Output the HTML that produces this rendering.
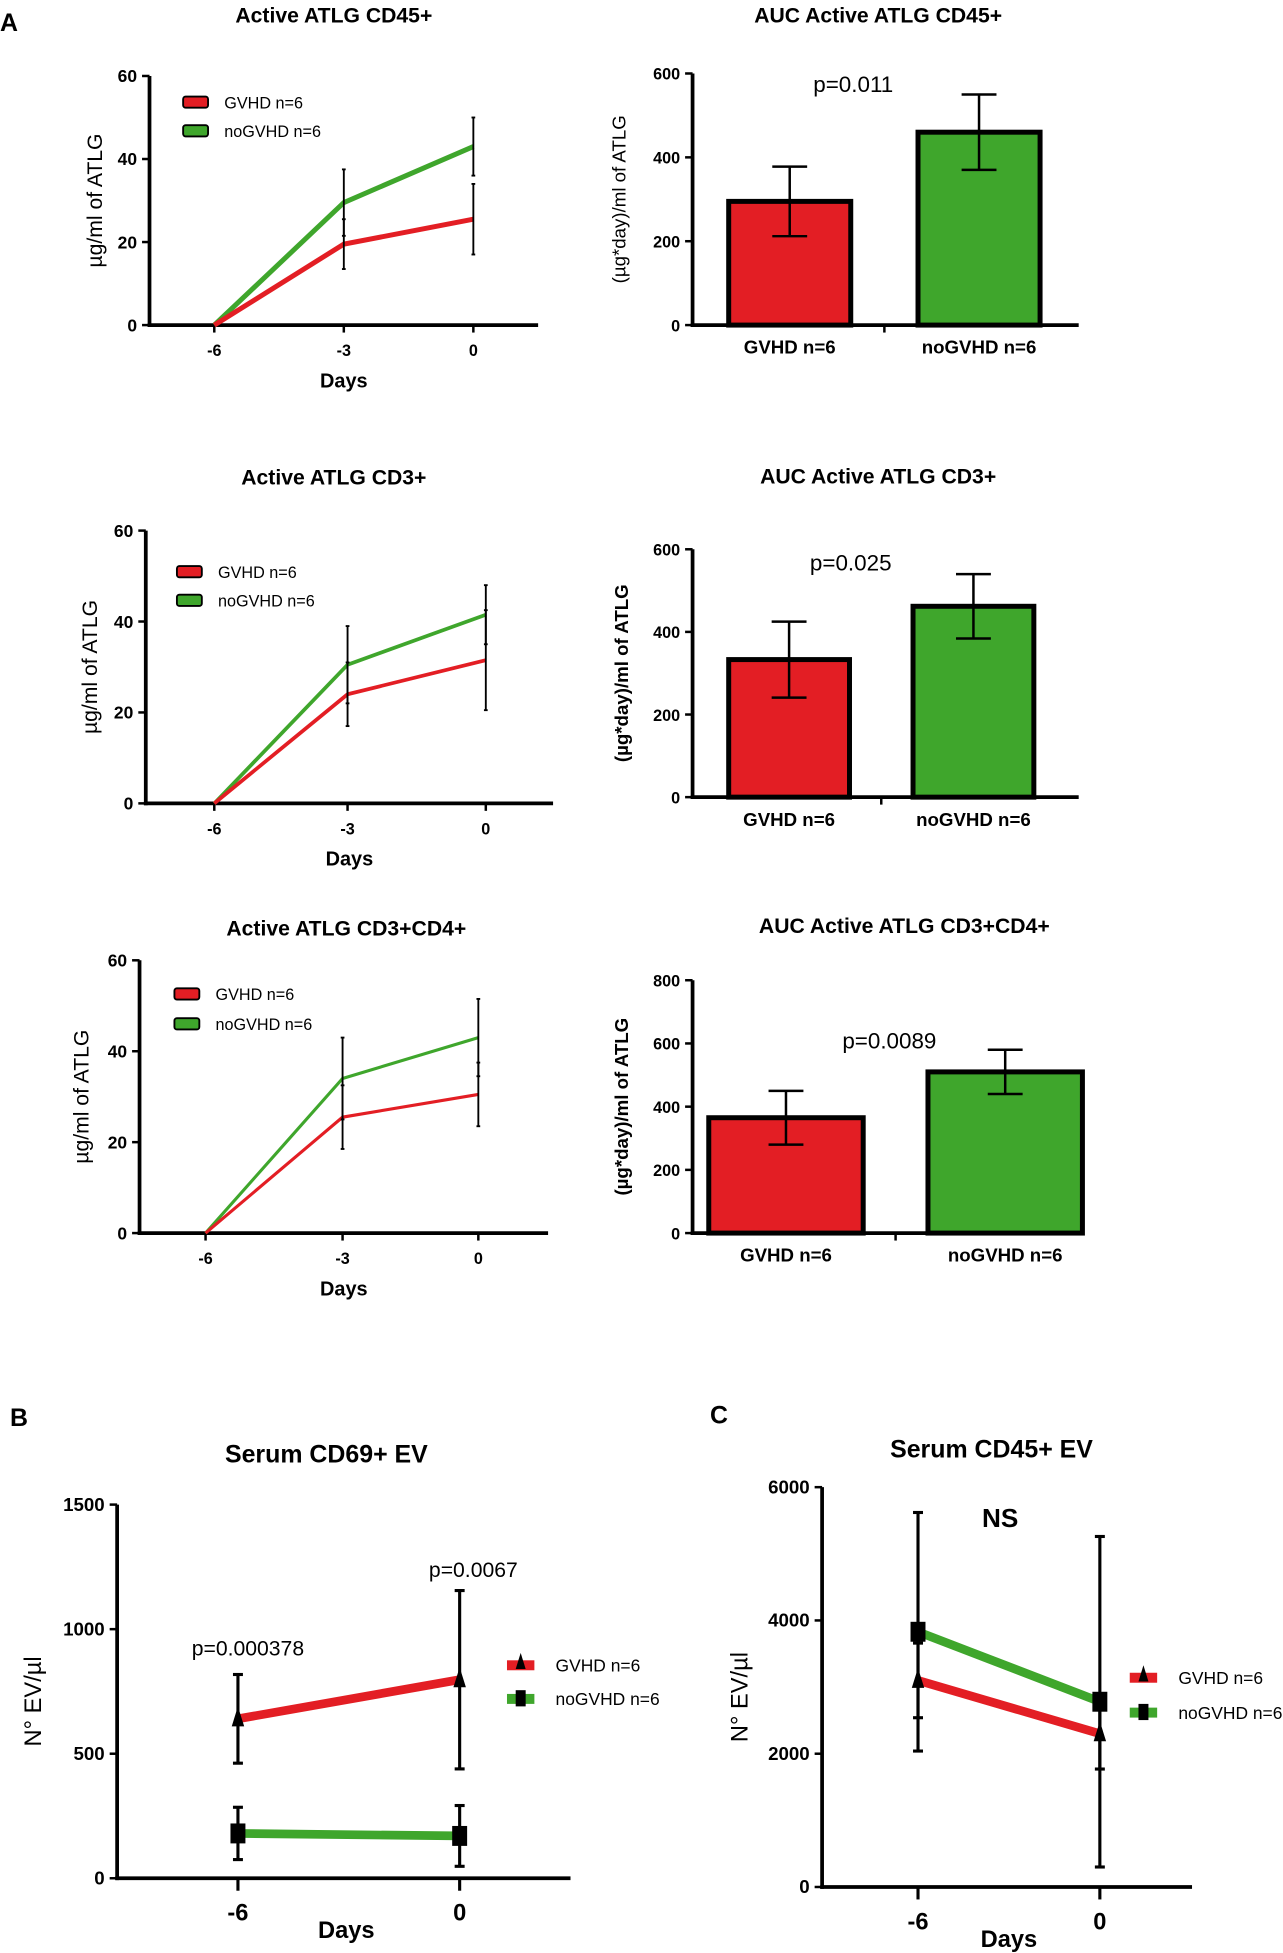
<!DOCTYPE html>
<html><head><meta charset="utf-8"><style>
html,body{margin:0;padding:0;background:#fff;}
svg{display:block;font-family:"Liberation Sans",Arial,sans-serif;}
</style></head><body>
<svg id="fig" width="1283" height="1953" viewBox="0 0 1030 1568" xmlns="http://www.w3.org/2000/svg">
<text x="0" y="25" font-size="20" font-weight="bold">A</text>
<text x="8" y="1145" font-size="20" font-weight="bold">B</text>
<text x="570" y="1143" font-size="20" font-weight="bold">C</text>
</svg>
<script>
// ---- data ----
const daysLine = ["-6","-3","0"];
const cd45Gvhd = [0, 19.5, 25.5];
const cd45GvhdErr = [0, 6, 8.5];
const cd45No = [0, 29.5, 43];
const cd45NoErr = [0, 8, 7];
const cd3Gvhd = [0, 24, 31.5];
const cd3GvhdErr = [0, 7, 11];
const cd3No = [0, 30.5, 41.5];
const cd3NoErr = [0, 8.5, 6.5];
const cd4Gvhd = [0, 25.5, 30.5];
const cd4GvhdErr = [0, 7, 7];
const cd4No = [0, 34, 43];
const cd4NoErr = [0, 9, 8.5];
const barCats = ["GVHD n=6","noGVHD n=6"];
const auc45 = [295, 460];
const auc45Err = [83, 90];
const auc3 = [333, 462];
const auc3Err = [92, 78];
const auc4 = [365, 510];
const auc4Err = [85, 70];
const evDays = ["-6","0"];
const cd69Gvhd = [640, 797];
const cd69GvhdErr = [178, 358];
const cd69No = [180, 170];
const cd69NoErr = [105, 122];
const ev45Gvhd = [3100, 2300];
const ev45GvhdErr = [560, 530];
const ev45No = [3830, 2780];
const ev45NoErr = [1790, 2480];
const lineTicks = [0,20,40,60];
const RED="#e31e24", GREEN="#3fa62c";

const svg=document.getElementById('fig');
const NS="http://www.w3.org/2000/svg";
function mk(tag,attrs,txt){const e=document.createElementNS(NS,tag);for(const k in attrs)e.setAttribute(k,attrs[k]);if(txt!==undefined)e.textContent=txt;svg.appendChild(e);return e;}
function txt(x,y,s,size,opts){opts=opts||{};const e=mk('text',{x:x,y:y,'font-size':size,'text-anchor':opts.anchor||'middle','font-weight':opts.bold?'bold':'normal'},s);if(opts.rot)e.setAttribute('transform','rotate(-90 '+x+' '+y+')');return e;}

function axes(ax,ticks,fmt){
  const yl=mk('line',{x1:ax.x0,y1:ax.y(ticks[ticks.length-1]),x2:ax.x0,y2:ax.y(0)+1.5,stroke:'#000','stroke-width':3});
  
  
  const xl=mk('line',{x1:ax.x0-1.5,y1:ax.y(0),x2:ax.x1,y2:ax.y(0),stroke:'#000','stroke-width':3});
  
  
  ticks.forEach(t=>{
    mk('line',{x1:ax.x0-6,y1:ax.y(t),x2:ax.x0,y2:ax.y(t),stroke:'#000','stroke-width':2});
    const l=txt(ax.x0-10,ax.y(t)+5,fmt?fmt(t):String(t),ax.tickSize||14,{anchor:'end',bold:true});
    
    
  });
}
function errbar(x,y1,y2,w,sw){
  const e=mk('line',{x1:x,y1:y1,x2:x,y2:y2,stroke:'#000','stroke-width':sw||2});
  
  
  mk('line',{x1:x-w,y1:y1,x2:x+w,y2:y1,stroke:'#000','stroke-width':sw||2});
  mk('line',{x1:x-w,y1:y2,x2:x+w,y2:y2,stroke:'#000','stroke-width':sw||2});
}

function lineChart(c){
  const ax={x0:c.x0,x1:c.x1,y:v=>c.yb-(v/60)*(c.yb-c.yt)};
  const xs=i=>c.xs[i];
  const t=txt(c.tx,c.ty,c.title,17,{bold:true});
  
  
  axes(ax,lineTicks);
  daysLine.forEach((d,i)=>{mk('line',{x1:xs(i),y1:ax.y(0),x2:xs(i),y2:ax.y(0)+6,stroke:'#000','stroke-width':2});
    const l=txt(xs(i),ax.y(0)+25,d,13,{bold:true});
    
    });
  const dl=txt((c.x0+c.x1)/2+c.dx,c.yb+50,'Days',16,{bold:true});
  
  
  const yl=txt(c.ylx,(c.yt+c.yb)/2,'µg/ml of ATLG',17,{rot:true});
  
  
  [[c.no,c.noErr,GREEN,'nogvhd-line'],[c.g,c.gErr,RED,'gvhd-line']].forEach(([v,e,col,nm])=>{
    const p=mk('polyline',{points:v.map((y,i)=>xs(i)+','+ax.y(y)).join(' '),fill:'none',stroke:col,'stroke-width':c.sw||4});
    
    
  });
  [[c.g,c.gErr],[c.no,c.noErr]].forEach(([v,e])=>v.forEach((y,i)=>{if(e[i]>0)errbar(xs(i),ax.y(y+e[i]),ax.y(y-e[i]),1.5,1.5);}));
  // legend
  [['GVHD n=6',RED,c.ly1],['noGVHD n=6',GREEN,c.ly2]].forEach(([s,col,y])=>{
    const r=mk('rect',{x:c.lx,y:y-4.5,width:20,height:9,rx:2,fill:col,stroke:'#000','stroke-width':1.5});
    
    
    const l=txt(c.lx+33,y+5,s,13,{anchor:'start'});
    
    
  });
}

function barChart(c){
  const top=c.ticks[c.ticks.length-1];
  const ax={x0:c.x0,x1:c.x1,y:v=>c.yb-(v/top)*(c.yb-c.yt),tickSize:13};
  const t=txt(c.tx,c.ty,c.title,17,{bold:true});
  
  
  const cols=[RED,GREEN];
  c.vals.forEach((v,i)=>{
    const b=mk('rect',{x:c.bx[i],y:ax.y(v),width:c.bw,height:ax.y(0)-ax.y(v),fill:cols[i],stroke:'#000','stroke-width':4});
    
    
    errbar(c.bx[i]+c.bw/2,ax.y(v+c.err[i]),ax.y(v-c.err[i]),14,2);
    const l=txt(c.bx[i]+c.bw/2,c.yb+23,barCats[i],15,{bold:true});
    
    
  });
  axes(ax,c.ticks);
  const mid=(c.bx[0]+c.bw+c.bx[1])/2;
  mk('line',{x1:mid,y1:c.yb,x2:mid,y2:c.yb+6,stroke:'#000','stroke-width':2});
  const p=txt(c.px,c.py,c.p,18,{});
  
  
  const yl=txt(c.ylx,(c.yt+c.yb)/2,'(µg*day)/ml of ATLG',15,{rot:true,bold:c.boldY});
  
  
}

function evChart(c){
  const top=c.ticks[c.ticks.length-1];
  const ax={x0:c.x0,x1:c.x1,y:v=>c.yb-(v/top)*(c.yb-c.yt),tickSize:15};
  const t=txt(c.tx,c.ty,c.title,20,{bold:true});
  
  
  axes(ax,c.ticks);
  const xs=i=>c.xs[i];
  evDays.forEach((d,i)=>{mk('line',{x1:xs(i),y1:ax.y(0),x2:xs(i),y2:ax.y(0)+10,stroke:'#000','stroke-width':2.5});
    const l=txt(xs(i),ax.y(0)+34,d,19,{bold:true});
    
    });
  const dl=txt(c.dx,c.yb+48,'Days',19,{bold:true});
  
  
  const yl=txt(c.ylx,(c.yt+c.yb)/2+8,'N° EV/µl',19,{rot:true});
  
  
  [[c.no,c.noErr,GREEN,'nogvhd-line','sq'],[c.g,c.gErr,RED,'gvhd-line','tri']].forEach(([v,e,col,nm,mark])=>{
    const p=mk('polyline',{points:v.map((y,i)=>xs(i)+','+ax.y(y)).join(' '),fill:'none',stroke:col,'stroke-width':7});
    
    
    v.forEach((y,i)=>{
      errbar(xs(i),ax.y(y+e[i]),ax.y(y-e[i]),4,2.5);
      let m;
      if(mark==='sq')m=mk('rect',{x:xs(i)-6,y:ax.y(y)-8,width:12,height:16,fill:'#000'});
      else m=mk('polygon',{points:(xs(i))+','+(ax.y(y)-10)+' '+(xs(i)-5)+','+(ax.y(y)+6)+' '+(xs(i)+5)+','+(ax.y(y)+6),fill:'#000'});
      
      
    });
  });
  [['GVHD n=6',RED,c.ly1,'tri'],['noGVHD n=6',GREEN,c.ly2,'sq']].forEach(([s,col,y,mark])=>{
    const r=mk('rect',{x:c.lx,y:y-4,width:22,height:8,fill:col});
    
    
    if(mark==='sq')mk('rect',{x:c.lx+7,y:y-7,width:8,height:13,fill:'#000'});
    else mk('polygon',{points:(c.lx+11)+','+(y-10)+' '+(c.lx+7)+','+(y+3)+' '+(c.lx+15)+','+(y+3),fill:'#000'});
    const l=txt(c.lx+39,y+5,s,14,{anchor:'start'});
    
    
  });
  c.pl.forEach(([s,x,y,sz,b])=>{const p=txt(x,y,s,sz,{bold:b});
    
    });
}

lineChart({title:'Active ATLG CD45+',tx:268,ty:18,x0:120,x1:432,yt:61,yb:261,xs:[172,276,380],dx:0,ylx:82,
  g:cd45Gvhd,gErr:cd45GvhdErr,no:cd45No,noErr:cd45NoErr,lx:147,ly1:82,ly2:105});
lineChart({title:'Active ATLG CD3+',tx:268,ty:389,x0:117,x1:444,yt:426,yb:645,xs:[172,279,390],dx:0,ylx:78,
  g:cd3Gvhd,gErr:cd3GvhdErr,no:cd3No,noErr:cd3NoErr,lx:142,ly1:459,ly2:482,sw:3});
lineChart({title:'Active ATLG CD3+CD4+',tx:278,ty:751,x0:112,x1:440,yt:771,yb:990,xs:[165,275,384],dx:0,ylx:71,
  g:cd4Gvhd,gErr:cd4GvhdErr,no:cd4No,noErr:cd4NoErr,lx:140,ly1:798,ly2:822,sw:2.5});

barChart({title:'AUC Active ATLG CD45+',tx:705,ty:18,x0:556,x1:866,yt:59,yb:261,ticks:[0,200,400,600],
  bx:[585,737],bw:98,vals:auc45,err:auc45Err,p:'p=0.011',px:685,py:74,ylx:502});
barChart({title:'AUC Active ATLG CD3+',tx:705,ty:388,x0:556,x1:866,yt:441,yb:640,ticks:[0,200,400,600],
  bx:[585,733],bw:97,vals:auc3,err:auc3Err,p:'p=0.025',px:683,py:458,ylx:504,boldY:true});
barChart({title:'AUC Active ATLG CD3+CD4+',tx:726,ty:749,x0:556,x1:866,yt:787,yb:990,ticks:[0,200,400,600,800],
  bx:[569,745],bw:124,vals:auc4,err:auc4Err,p:'p=0.0089',px:714,py:842,ylx:504,boldY:true});

evChart({title:'Serum CD69+ EV',tx:262,ty:1174,x0:94,x1:458,yt:1208,yb:1508,ticks:[0,500,1000,1500],xs:[191,369],dx:278,ylx:33,
  g:cd69Gvhd,gErr:cd69GvhdErr,no:cd69No,noErr:cd69NoErr,lx:407,ly1:1337,ly2:1364,
  pl:[['p=0.000378',199,1329,17,false],['p=0.0067',380,1266,17,false]]});
evChart({title:'Serum CD45+ EV',tx:796,ty:1170,x0:660,x1:957,yt:1194,yb:1515,ticks:[0,2000,4000,6000],xs:[737,883],dx:810,ylx:600,
  g:ev45Gvhd,gErr:ev45GvhdErr,no:ev45No,noErr:ev45NoErr,lx:907,ly1:1347,ly2:1375,
  pl:[['NS',803,1226,21,true]]});
</script>
</body></html>
